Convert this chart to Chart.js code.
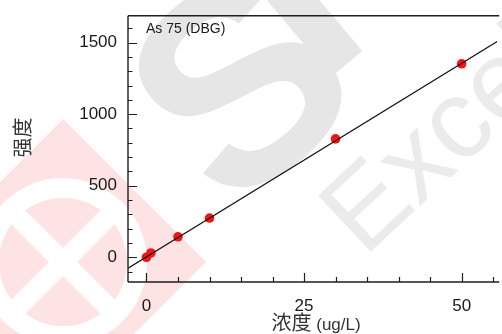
<!DOCTYPE html>
<html>
<head>
<meta charset="utf-8">
<script src="https://cdn.jsdelivr.net/npm/chart.js@4"></script>
<style>
  html, body { margin: 0; padding: 0; background: #fff; overflow: hidden; }
  #wrap { width: 502px; height: 334px; position: relative; }
</style>
</head>
<body>
<div id="wrap"><canvas id="c"></canvas></div>
<script>
// Calibration standards: concentration (ug/L) and measured intensity
const concentrations = [0, 0.7, 5, 10, 30, 50];
const intensities = [0, 30, 143, 274, 827, 1352];

// Calibration fit line, drawn across the whole x range
const fitConc = [-2.93, 55.64];
const fitIntensity = [-77, 1508];

// Tick labels
const xTickValues = [0, 25, 50];
const yTickValues = [0, 500, 1000, 1500];
const xMinorStep = 5;
const yMinorStep = 100;

const sansFont = '"Liberation Sans", Arial, Helvetica, sans-serif';
const cjkFont = '"Noto Sans CJK SC", "Noto Sans CJK JP", sans-serif';

function rotatedText(ctx, text, x, y, deg, font, color) {
  ctx.save();
  ctx.translate(x, y);
  ctx.rotate(deg * Math.PI / 180);
  ctx.font = font;
  ctx.fillStyle = color;
  ctx.textAlign = 'left';
  ctx.textBaseline = 'alphabetic';
  ctx.fillText(text, 0, 0);
  ctx.restore();
}

// Background watermark
const watermark = {
  id: 'watermark',
  beforeDraw(chart) {
    const ctx = chart.ctx;
    ctx.save();
    ctx.fillStyle = '#ffffff';
    ctx.fillRect(0, 0, chart.width, chart.height);

    // red badge
    const pink = '#fde3e3';
    const cx = 63, cy = 262;
    ctx.fillStyle = pink;
    ctx.beginPath();
    ctx.moveTo(cx, cy - 143);
    ctx.lineTo(cx + 143, cy);
    ctx.lineTo(cx, cy + 143);
    ctx.lineTo(cx - 143, cy);
    ctx.closePath();
    ctx.fill();
    ctx.fillStyle = '#ffffff';
    ctx.beginPath(); ctx.arc(cx, cy, 84, 0, Math.PI * 2); ctx.fill();
    ctx.fillStyle = pink;
    ctx.beginPath(); ctx.arc(cx, cy, 64, 0, Math.PI * 2); ctx.fill();
    ctx.fillStyle = '#ffffff';
    ctx.translate(cx, cy);
    for (const a of [Math.PI / 4, -Math.PI / 4]) {
      ctx.save();
      ctx.rotate(a);
      ctx.fillRect(-70, -10, 140, 20);
      ctx.restore();
    }
    ctx.setTransform(1, 0, 0, 1, 0, 0);

    // grey lettering
    const bold = 'bold 280px ' + sansFont;
    rotatedText(ctx, 'S', 229, 217, -40, bold, '#e6e6e6');
    rotatedText(ctx, 'P', 317, 89, -40, bold, '#e6e6e6');
    rotatedText(ctx, 'Excel', 364, 258, -43, '112px ' + sansFont, '#ebebeb');
    ctx.restore();
  }
};

// Frame, inward ticks, titles and panel label
const frame = {
  id: 'frame',
  afterDraw(chart) {
    const ctx = chart.ctx;
    const a = chart.chartArea;
    const xs = chart.scales.x, ys = chart.scales.y;
    ctx.save();
    ctx.strokeStyle = '#1e1e1e';
    ctx.lineWidth = 1.4;
    ctx.beginPath();
    ctx.moveTo(a.left, a.top); ctx.lineTo(a.right + 2, a.top);
    ctx.moveTo(a.left, a.top); ctx.lineTo(a.left, a.bottom);
    ctx.moveTo(a.left, a.bottom); ctx.lineTo(a.right + 2, a.bottom);
    ctx.stroke();

    ctx.lineWidth = 1.2;
    ctx.beginPath();
    for (let v = 0; v <= xs.max; v += xMinorStep) {
      const px = Math.round(xs.getPixelForValue(v)) + 0.5;
      const len = xTickValues.includes(v) ? 9 : 5;
      ctx.moveTo(px, a.bottom); ctx.lineTo(px, a.bottom - len);
    }
    for (let v = -100; v <= ys.max; v += yMinorStep) {
      const py = Math.round(ys.getPixelForValue(v)) + 0.5;
      const len = yTickValues.includes(v) ? 9 : 4.5;
      ctx.moveTo(a.left, py); ctx.lineTo(a.left + len, py);
    }
    ctx.stroke();

    // panel label
    ctx.fillStyle = '#1a1a1a';
    ctx.font = '14px ' + sansFont;
    ctx.textAlign = 'left';
    ctx.textBaseline = 'alphabetic';
    ctx.fillText('As 75 (DBG)', 146, 33);

    // y title
    ctx.fillStyle = '#333';
    ctx.save();
    ctx.translate(22, 137.5);
    ctx.rotate(-Math.PI / 2);
    ctx.font = '20px ' + cjkFont;
    ctx.textAlign = 'center';
    ctx.textBaseline = 'middle';
    ctx.fillText('强度', 0, 0);
    ctx.restore();

    // x title
    ctx.textAlign = 'left';
    ctx.textBaseline = 'alphabetic';
    ctx.font = '20px ' + cjkFont;
    const cjkPart = '浓度';
    ctx.fillText(cjkPart, 271.5, 330);
    const w = ctx.measureText(cjkPart).width;
    ctx.font = '17px ' + sansFont;
    ctx.fillText(' (ug/L)', 271.5 + w, 330);
    ctx.restore();
  }
};

new Chart(document.getElementById('c'), {
  type: 'scatter',
  data: {
    datasets: [
      {
        type: 'line',
        data: fitConc.map((x, i) => ({ x, y: fitIntensity[i] })),
        borderColor: '#111',
        borderWidth: 1.3,
        pointRadius: 0,
        fill: false,
        order: 0
      },
      {
        data: concentrations.map((x, i) => ({ x, y: intensities[i] })),
        backgroundColor: '#f41414',
        borderWidth: 0,
        pointRadius: 4.8,
        order: 1
      }
    ]
  },
  plugins: [watermark, frame],
  options: {
    responsive: true,
    maintainAspectRatio: false,
    animation: false,
    devicePixelRatio: 1,
    layout: { padding: { top: 15.7, right: 0, left: 0, bottom: 0 } },
    plugins: { legend: { display: false }, tooltip: { enabled: false } },
    scales: {
      x: {
        type: 'linear',
        position: 'bottom',
        min: -2.93,
        max: 55.64,
        afterBuildTicks: s => { s.ticks = xTickValues.map(v => ({ value: v })); },
        afterFit: s => { s.height = 52; s.paddingLeft = 0; s.paddingRight = 0; },
        grid: { drawOnChartArea: false, drawTicks: false },
        border: { display: false },
        ticks: { font: { family: sansFont, size: 17 }, color: '#1a1a1a', padding: 14, maxRotation: 0,
                 callback: v => String(v) }
      },
      y: {
        type: 'linear',
        min: -173,
        max: 1688,
        afterBuildTicks: s => { s.ticks = yTickValues.map(v => ({ value: v })); },
        afterFit: s => { s.width = 128; s.paddingTop = 0; s.paddingBottom = 0; },
        grid: { drawOnChartArea: false, drawTicks: false },
        border: { display: false },
        ticks: { font: { family: sansFont, size: 17 }, color: '#1a1a1a', padding: 11,
                 callback: v => String(v) }
      }
    }
  }
});
</script>
</body>
</html>
